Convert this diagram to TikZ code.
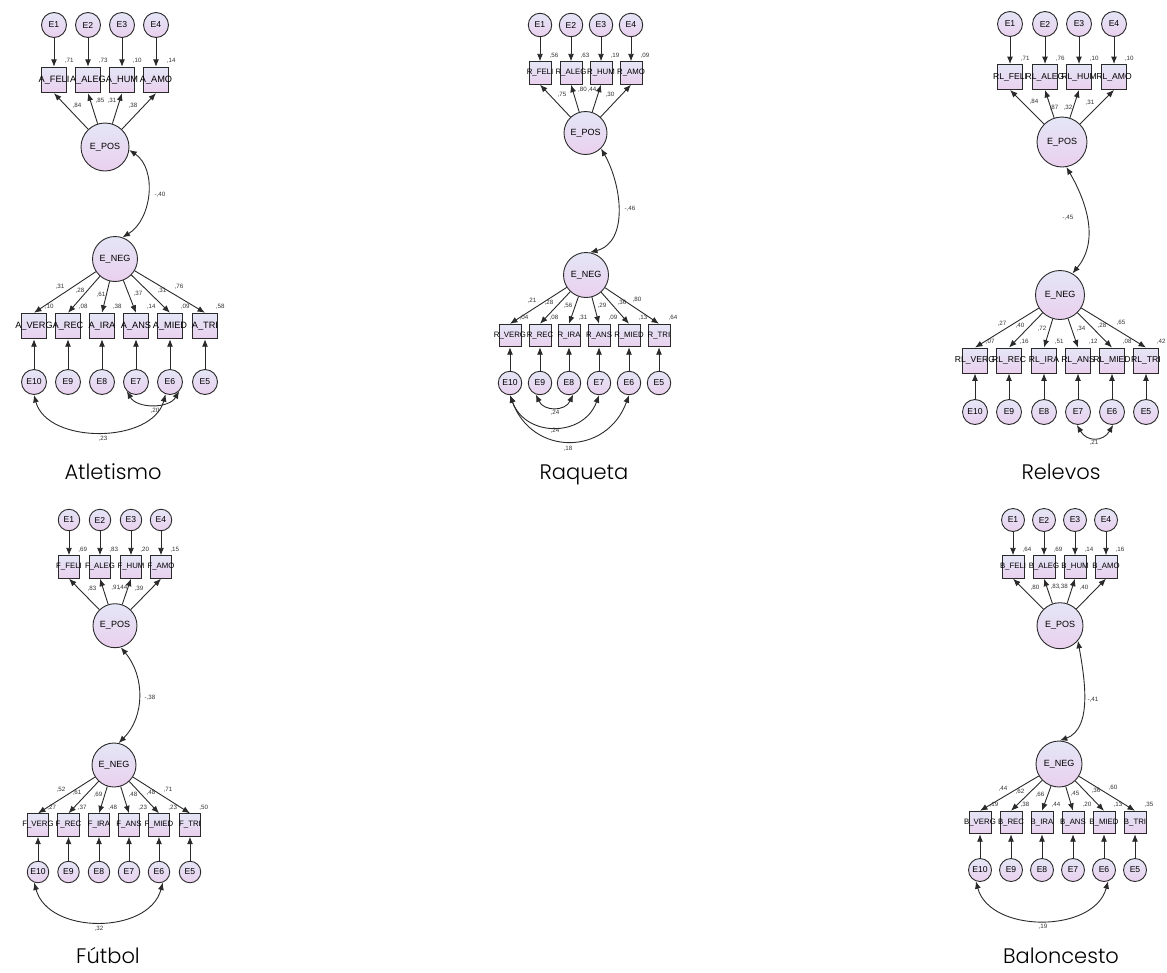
\documentclass[tikz,border=0pt]{standalone}
\usepackage{fontspec}
\setmainfont{Liberation Sans}
\newfontfamily\titlefont{Poppins Light}
\usetikzlibrary{arrows.meta}
\definecolor{lavtop}{HTML}{E4E6F6}
\definecolor{lavbot}{HTML}{EAD0EE}
\definecolor{edge}{HTML}{2A2A2A}
\newcommand{\lbl}[1]{\makebox[0pt]{#1}}
\tikzstyle{err}=[circle,draw=edge,line width=0.9pt,top color=lavtop,bottom color=lavbot,inner sep=0pt,font=\fontsize{8.6}{10}\selectfont]
\tikzstyle{lat}=[err,font=\fontsize{9}{10}\selectfont]
\tikzstyle{obs}=[rectangle,draw=edge,line width=0.9pt,top color=lavtop,bottom color=lavbot,inner sep=0pt,font=\fontsize{7.8}{9}\selectfont]
\tikzstyle{coef}=[inner sep=0pt,font=\fontsize{6.2}{7}\selectfont,text=black!80]
\tikzstyle{rsq}=[coef,anchor=south west,xshift=-2pt,yshift=3pt]
\tikzstyle{panelname}=[font=\titlefont\fontsize{21}{24}\selectfont,anchor=base]
\tikzstyle{dgraph}=[->,>={Latex[length=7.5pt,width=6pt]},line width=0.9pt,draw=edge]

\begin{document}
\begin{tikzpicture}[x=1pt,y=-1pt]
\useasboundingbox (0,0) rectangle (1167,972);

% Atletismo
\begin{scope}[err/.append style={minimum size=25pt},obs/.append style={minimum width=24.5pt,minimum height=25.5pt,font=\fontsize{9.2}{10}\selectfont}]
\node[lat,minimum size=48pt] (A-pos) at (105,147) {E\_POS};
\node[lat,minimum size=45pt] (A-neg) at (115,259) {E\_NEG};
\foreach \i/\x/\n/\rv/\lv/\lx/\ly in {1/54/FELI/71/84/77/106,2/88/ALEG/73/85/100/101,3/122/HUM/10/31/112/101,4/156/AMO/14/38/133/106}{
  \node[err] (A-e\i) at (\x,25) {E\i};
  \node[obs] (A-t\i) at (\x,80) {\lbl{A\_\n}};
  \draw[dgraph] (A-e\i) -- (A-t\i);
  \draw[dgraph] (A-pos) -- (A-t\i.south);
  \node[rsq] at (A-t\i.north east) {,\rv};
  \node[coef] at (\lx,\ly) {,\lv};
}
\foreach \i/\x/\n/\rv/\lv/\lx/\ly in {10/34/VERG/10/31/60/287,9/68/REC/08/28/80/291,8/102/IRA/38/61/101/295,7/136/ANS/14/37/138/294,6/170/MIED/09/31/162/291,5/205/TRI/58/76/179/287}{
  \node[obs] (A-t\i) at (\x,326) {\lbl{A\_\n}};
  \node[err] (A-e\i) at (\x,382) {E\i};
  \draw[dgraph] (A-e\i) -- (A-t\i);
  \draw[dgraph] (A-neg) -- (A-t\i.north);
  \node[rsq] at (A-t\i.north east) {,\rv};
  \node[coef] at (\lx,\ly) {,\lv};
}
\draw[dgraph,<->] (A-pos.-7) to[out=-34,in=31] (A-neg.71);
\node[coef] at (160,195) {-,40};
\draw[dgraph,<->] (A-e7.225) to[out=-60,in=-120] (A-e6.315);
\node[coef] at (155,411) {,20};
\draw[dgraph,<->] (A-e10.270) to[out=-75,in=-105] (A-e6.250);
\node[coef] at (103,439) {,23};
\node[panelname] at (113,479) {Atletismo};
\end{scope}

% Raqueta
\begin{scope}[err/.append style={minimum size=23.5pt},obs/.append style={minimum width=22pt,minimum height=22.5pt}]
\node[lat,minimum size=43pt] (R-pos) at (585.5,133) {E\_POS};
\node[lat,minimum size=45pt] (R-neg) at (586,275) {E\_NEG};
\foreach \i/\x/\n/\rv/\lv/\lx/\ly in {1/540/FELI/56/75/562/95,2/571/ALEG/63/80/582.5/90,3/601/HUM/19/44/592/90,4/631/AMO/09/30/610/95}{
  \node[err] (R-e\i) at (\x,25) {E\i};
  \node[obs] (R-t\i) at (\x,73) {\lbl{R\_\n}};
  \draw[dgraph] (R-e\i) -- (R-t\i);
  \draw[dgraph] (R-pos) -- (R-t\i.south);
  \node[rsq] at (R-t\i.north east) {,\rv};
  \node[coef] at (\lx,\ly) {,\lv};
}
\foreach \i/\x/\n/\rv/\lv/\lx/\ly in {10/510/VERG/04/21/532/301,9/540/REC/08/28/549/303,8/569/IRA/31/56/568/306,7/599/ANS/09/29/602/306,6/629/MIED/13/36/622/303,5/659/TRI/64/80/637/300}{
  \node[obs] (R-t\i) at (\x,335.5) {\lbl{R\_\n}};
  \node[err] (R-e\i) at (\x,383) {E\i};
  \draw[dgraph] (R-e\i) -- (R-t\i);
  \draw[dgraph] (R-neg) -- (R-t\i.north);
  \node[rsq] at (R-t\i.north east) {,\rv};
  \node[coef] at (\lx,\ly) {,\lv};
}
\draw[dgraph,<->] (R-pos.-45) to[out=-60,in=15] (R-neg.80);
\node[coef] at (630,209) {-,46};
\draw[dgraph,<->] (R-e9.250) to[out=-65,in=-115,looseness=1.3] (R-e8.290);
\node[coef] at (555,413) {,24};
\draw[dgraph,<->] (R-e10.south) to[out=-70,in=-110,looseness=1.3] (R-e7.south);
\node[coef] at (555,431) {,24};
\draw[dgraph,<->] (R-e10.south) to[out=-70,in=-110,looseness=1.4] (R-e6.south);
\node[coef] at (568,449) {,18};
\node[panelname] at (584,479) {Raqueta};
\end{scope}

% Relevos
\begin{scope}[err/.append style={minimum size=25pt},obs/.append style={minimum width=24.5pt,minimum height=25pt,font=\fontsize{8.6}{9}\selectfont}]
\node[lat,minimum size=50pt] (RL-pos) at (1062,142) {E\_POS};
\node[lat,minimum size=49pt] (RL-neg) at (1060,295) {E\_NEG};
\foreach \i/\x/\n/\rv/\lv/\lx/\ly in {1/1010/FELI/71/84/1034/102,2/1045/ALEG/76/87/1054/108,3/1079/HUM/10/32/1068/108,4/1114/AMO/10/31/1090/103}{
  \node[err] (RL-e\i) at (\x,24) {E\i};
  \node[obs] (RL-t\i) at (\x,77) {\lbl{RL\_\n}};
  \draw[dgraph] (RL-e\i) -- (RL-t\i);
  \draw[dgraph] (RL-pos) -- (RL-t\i.south);
  \node[rsq] at (RL-t\i.north east) {,\rv};
  \node[coef] at (\lx,\ly) {,\lv};
}
\foreach \i/\x/\n/\rv/\lv/\lx/\ly in {10/975/VERG/07/27/1002/324,9/1009/REC/16/40/1020/326,8/1044/IRA/51/72/1042/329,7/1078/ANS/12/34/1081/329,6/1112/MIED/08/28/1102/326,5/1146/TRI/42/65/1121/323}{
  \node[obs] (RL-t\i) at (\x,360.5) {\lbl{RL\_\n}};
  \node[err] (RL-e\i) at (\x,412) {E\i};
  \draw[dgraph] (RL-e\i) -- (RL-t\i);
  \draw[dgraph] (RL-neg) -- (RL-t\i.north);
  \node[rsq] at (RL-t\i.north east) {,\rv};
  \node[coef] at (\lx,\ly) {,\lv};
}
\draw[dgraph,<->] (RL-pos.-80) to[out=-60,in=50] (RL-neg.60);
\node[coef] at (1068,218) {-,45};
\draw[dgraph,<->] (RL-e7.265) to[out=-60,in=-120,looseness=1.4] (RL-e6.275);
\node[coef] at (1094,443) {,21};
\node[panelname] at (1061,479) {Relevos};
\end{scope}

% Futbol
\begin{scope}[err/.append style={minimum size=21.5pt},obs/.append style={minimum width=21.5pt,minimum height=22.5pt}]
\node[lat,minimum size=44pt] (F-pos) at (115,625.7) {E\_POS};
\node[lat,minimum size=44pt] (F-neg) at (114,765) {E\_NEG};
\foreach \i/\x/\n/\rv/\lv/\lx/\ly in {1/69/FELI/69/83/92/589,2/100/ALEG/83/91/115.7/588,3/131/HUM/20/44/123/588,4/161/AMO/15/39/139/589}{
  \node[err] (F-e\i) at (\x,520) {E\i};
  \node[obs] (F-t\i) at (\x,567) {\lbl{F\_\n}};
  \draw[dgraph] (F-e\i) -- (F-t\i);
  \draw[dgraph] (F-pos) -- (F-t\i.south);
  \node[rsq] at (F-t\i.north east) {,\rv};
  \node[coef] at (\lx,\ly) {,\lv};
}
\foreach \i/\x/\n/\rv/\lv/\lx/\ly in {10/38/VERG/27/52/61/790,9/68.5/REC/37/61/77/793,8/99/IRA/48/69/98/795,7/129/ANS/23/48/133/795,6/159/MIED/23/48/151/793,5/190/TRI/50/71/168/790}{
  \node[obs] (F-t\i) at (\x,825) {\lbl{F\_\n}};
  \node[err] (F-e\i) at (\x,872) {E\i};
  \draw[dgraph] (F-e\i) -- (F-t\i);
  \draw[dgraph] (F-neg) -- (F-t\i.north);
  \node[rsq] at (F-t\i.north east) {,\rv};
  \node[coef] at (\lx,\ly) {,\lv};
}
\draw[dgraph,<->] (F-pos.-75) to[out=-50,in=45] (F-neg.78);
\node[coef] at (150,698) {-,38};
\draw[dgraph,<->] (F-e10.250) to[out=-75,in=-105,looseness=1.08] (F-e6.290);
\node[coef] at (99,929) {,32};
\node[panelname] at (108,963) {Fútbol};
\end{scope}

% Baloncesto
\begin{scope}[err/.append style={minimum size=23pt},obs/.append style={minimum width=22pt,minimum height=22.5pt}]
\node[lat,minimum size=46pt] (B-pos) at (1060,625.7) {E\_POS};
\node[lat,minimum size=46pt] (B-neg) at (1059,764) {E\_NEG};
\foreach \i/\x/\n/\rv/\lv/\lx/\ly in {1/1013/FELI/64/80/1035/588,2/1044/ALEG/69/83/1055/587,3/1075/HUM/14/38/1063.5/587,4/1106/AMO/16/40/1084/588}{
  \node[err] (B-e\i) at (\x,520) {E\i};
  \node[obs] (B-t\i) at (\x,567) {\lbl{B\_\n}};
  \draw[dgraph] (B-e\i) -- (B-t\i);
  \draw[dgraph] (B-pos) -- (B-t\i.south);
  \node[rsq] at (B-t\i.north east) {,\rv};
  \node[coef] at (\lx,\ly) {,\lv};
}
\foreach \i/\x/\n/\rv/\lv/\lx/\ly in {10/980/VERG/19/44/1003/789,9/1011/REC/38/62/1020/792,8/1042/IRA/44/66/1040/795,7/1073/ANS/20/45/1075/794,6/1104/MIED/13/36/1096/791,5/1135/TRI/35/60/1113/788}{
  \node[obs] (B-t\i) at (\x,822.5) {\lbl{B\_\n}};
  \node[err] (B-e\i) at (\x,870) {E\i};
  \draw[dgraph] (B-e\i) -- (B-t\i);
  \draw[dgraph] (B-neg) -- (B-t\i.north);
  \node[rsq] at (B-t\i.north east) {,\rv};
  \node[coef] at (\lx,\ly) {,\lv};
}
\draw[dgraph,<->] (B-pos.-40) to[out=-80,in=20,looseness=0.9] (B-neg.88);
\node[coef] at (1093,700) {-,41};
\draw[dgraph,<->] (B-e10.250) to[out=-75,in=-105,looseness=1.05] (B-e6.290);
\node[coef] at (1043,927) {,19};
\node[panelname] at (1061,963) {Baloncesto};
\end{scope}
\end{tikzpicture}
\end{document}
